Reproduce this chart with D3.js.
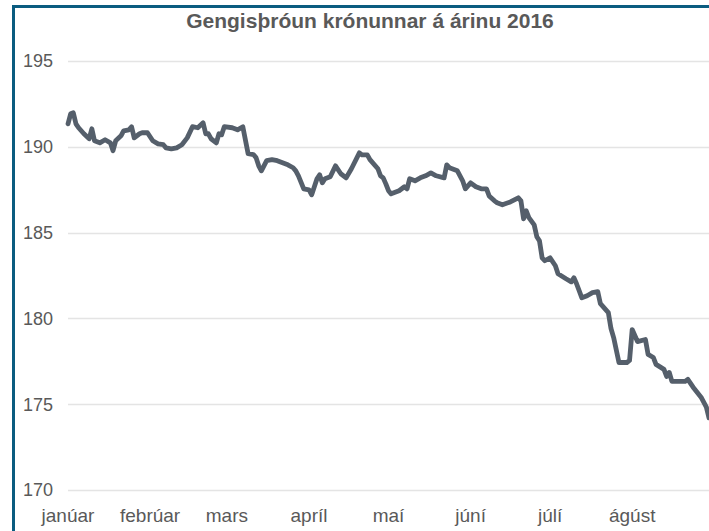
<!DOCTYPE html>
<html>
<head>
<meta charset="utf-8">
<style>
  body { margin: 0; background: #fff; }
  #gengi { font-family: 'Liberation Sans', Arial, sans-serif; }
  #gengi text { fill: #595959; }
</style>
</head>
<body>
<div id="gengi"></div>
<script src="https://d3js.org/d3.v7.min.js"></script>
<script>
  var title = "Gengisþróun krónunnar á árinu 2016";
  var months = ["janúar", "febrúar", "mars", "apríl", "maí", "júní", "júlí", "ágúst"];
  var yTicks = [170, 175, 180, 185, 190, 195];

  // days counted from 4 January 2016
  var days = [0, 1, 2, 3, 4, 6, 8, 9, 10, 12,
    14, 16, 17, 18, 20, 21, 23, 24, 25, 27,
    28, 30, 32, 34, 36, 37, 39, 41, 43, 45,
    47, 49, 51, 52, 53, 54, 56, 57, 58, 59,
    62, 64, 66, 68, 70, 71, 72, 73, 75, 77,
    79, 81, 83, 85, 86, 87, 89, 91, 92, 94,
    95, 96, 97, 99, 101, 103, 105, 107, 110, 111,
    113, 114, 117, 118, 119, 120, 121, 122, 125, 127,
    128, 129, 131, 133, 135, 137, 139, 142, 143, 144,
    147, 149, 150, 152, 154, 156, 158, 159, 161, 162,
    164, 167, 170, 171, 172, 173, 174, 176, 177, 178,
    179, 180, 182, 184, 185, 188, 190, 191, 192, 194,
    196, 198, 200, 201, 204, 205, 206, 208, 211, 212,
    213, 215, 218, 219, 221, 222, 225, 226, 227, 228,
    233, 234, 236, 239, 240, 241, 242];

  var values = [191.34, 191.92, 191.98, 191.34, 191.11, 190.76, 190.47, 191.05, 190.35, 190.23,
    190.41, 190.23, 189.77, 190.35, 190.64, 190.93, 190.99, 191.17, 190.52, 190.76,
    190.82, 190.82, 190.35, 190.17, 190.12, 189.94, 189.88, 189.94, 190.12, 190.52,
    191.17, 191.11, 191.40, 190.76, 190.76, 190.47, 190.23, 190.76, 190.70, 191.17,
    191.11, 190.99, 191.17, 189.60, 189.55, 189.37, 188.89, 188.60, 189.19, 189.25,
    189.19, 189.07, 188.95, 188.78, 188.60, 188.31, 187.55, 187.49, 187.20, 188.14,
    188.37, 187.90, 188.14, 188.25, 188.89, 188.43, 188.19, 188.72, 189.65, 189.53,
    189.53, 189.25, 188.72, 188.31, 188.19, 187.84, 187.44, 187.26, 187.44, 187.67,
    187.55, 188.14, 188.02, 188.19, 188.31, 188.48, 188.31, 188.19, 188.95, 188.78,
    188.60, 188.02, 187.55, 187.90, 187.67, 187.55, 187.55, 187.14, 186.85, 186.74,
    186.62, 186.79, 187.03, 186.85, 185.80, 186.27, 185.87, 185.45, 184.76, 184.52,
    183.53, 183.36, 183.53, 183.07, 182.60, 182.31, 182.13, 182.37, 182.02, 181.20,
    181.32, 181.50, 181.56, 180.86, 180.34, 179.41, 178.88, 177.43, 177.43, 177.55,
    179.35, 178.65, 178.77, 177.90, 177.72, 177.32, 177.03, 176.62, 176.85, 176.33,
    176.33, 176.45, 175.99, 175.41, 175.12, 174.83, 174.20];

  var width = 709,
    height = 531;
  var start = new Date(2016, 0, 4);

  var data = days.map(function(d, i) {
    return { date: d3.timeDay.offset(start, d), value: values[i] };
  });

  var svg = d3.select("#gengi").append("svg")
    .attr("width", width)
    .attr("height", height);

  // frame
  svg.append("rect")
    .attr("x", 13.5)
    .attr("y", 6.5)
    .attr("width", 760)
    .attr("height", 600)
    .attr("fill", "#fff")
    .attr("stroke", "#0b5c80")
    .attr("stroke-width", 3);

  var x = d3.scaleTime()
    .domain([start, d3.timeDay.offset(start, 242)])
    .range([68, 709]);

  var y = d3.scaleLinear()
    .domain([170, 195])
    .range([490, 61]);

  // gridlines
  svg.append("g")
    .selectAll("line")
    .data(yTicks)
    .enter().append("line")
    .attr("x1", 68)
    .attr("x2", width)
    .attr("y1", function(d) { return Math.round(y(d)) + 0.5; })
    .attr("y2", function(d) { return Math.round(y(d)) + 0.5; })
    .attr("stroke", "#e4e4e4")
    .attr("stroke-width", 1.5);

  svg.append("g")
    .selectAll("text")
    .data(yTicks)
    .enter().append("text")
    .attr("x", 53)
    .attr("y", function(d) { return y(d); })
    .attr("dy", "0.36em")
    .attr("text-anchor", "end")
    .style("font-size", "18px")
    .text(function(d) { return d; });

  // month labels
  svg.append("g")
    .selectAll("text")
    .data(months)
    .enter().append("text")
    .attr("x", function(d, i) { return x(d3.timeMonth.offset(start, i)); })
    .attr("y", 522)
    .attr("text-anchor", "middle")
    .style("font-size", "19px")
    .text(function(d) { return d; });

  var line = d3.line()
    .x(function(d) { return x(d.date); })
    .y(function(d) { return y(d.value); });

  svg.append("path")
    .datum(data)
    .attr("d", line)
    .attr("fill", "none")
    .attr("stroke", "#555f6b")
    .attr("stroke-width", 4.8)
    .attr("stroke-linejoin", "round")
    .attr("stroke-linecap", "round");

  svg.append("text")
    .attr("x", 370)
    .attr("y", 28)
    .attr("text-anchor", "middle")
    .style("font-size", "21px")
    .style("font-weight", "bold")
    .text(title);
</script>
</body>
</html>
